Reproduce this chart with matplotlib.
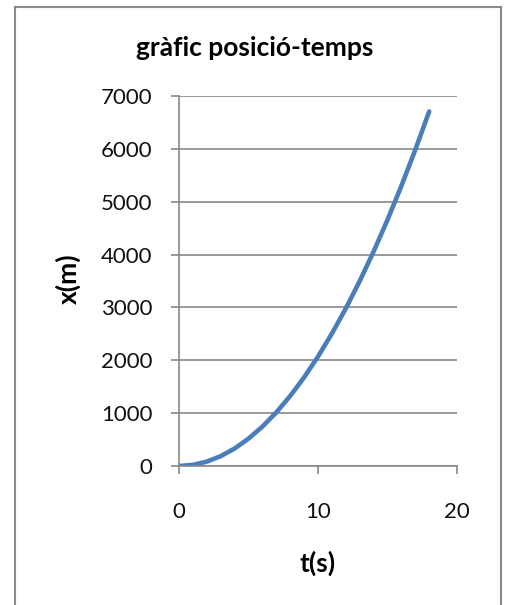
import matplotlib
matplotlib.use("Agg")
import matplotlib.pyplot as plt
from matplotlib.patches import Rectangle

t_values = [0, 1, 2, 3, 4, 5, 6, 7, 8, 9, 10, 11, 12, 13, 14, 15, 16, 17, 18]
x_values = [0, 21, 83, 186, 331, 518, 745, 1014, 1325, 1677, 2070,
            2505, 2981, 3498, 4057, 4658, 5299, 5982, 6707]
x_ticks = [0, 10, 20]
y_ticks = [0, 1000, 2000, 3000, 4000, 5000, 6000, 7000]
title = "gràfic posició-temps"
xlabel = "t(s)"
ylabel = "x(m)"

plt.rcParams['font.family'] = ['Lato', 'DejaVu Sans']
W, H = 505, 605
fig = plt.figure(figsize=(W / 100, H / 100), dpi=100)
fig.patch.set_facecolor('white')

ax = fig.add_axes([179 / W, 1 - 466 / H, 278 / W, 370 / H])
ax.plot(t_values, x_values, color='#4a7ebb', lw=3.3, solid_capstyle='round')
ax.set_xlim(0, 20)
ax.set_ylim(0, 7000)
ax.set_xticks(x_ticks)
ax.set_yticks(y_ticks)
gc = '#878787'
ax.yaxis.grid(True, color=gc, lw=1.2)
ax.set_axisbelow(True)
for s in ['top', 'right']:
    ax.spines[s].set_visible(False)
for s in ['left', 'bottom']:
    ax.spines[s].set_color(gc)
    ax.spines[s].set_linewidth(1.2)
ax.tick_params(axis='both', direction='out', length=6, width=1.2, color=gc,
               labelsize=16, labelcolor='#111111')
ax.tick_params(axis='x', pad=20)
ax.tick_params(axis='y', pad=13)

fig.text(255 / W, 1 - 48 / H, title, ha='center', va='center',
         fontsize=19, fontweight='bold')
fig.text(318 / W, 1 - 563 / H, xlabel, ha='center', va='center',
         fontsize=19, fontweight='bold')
fig.text(68 / W, 1 - 279 / H, ylabel, ha='center', va='center',
         fontsize=19, fontweight='bold', rotation=90)

fig.patches.append(Rectangle((15 / W, -0.05), (501 - 15) / W, 1.05 - 7 / H,
                             transform=fig.transFigure, fill=False,
                             edgecolor='#8a8a8a', lw=1.5))

fig.savefig('out.png', dpi=100)
